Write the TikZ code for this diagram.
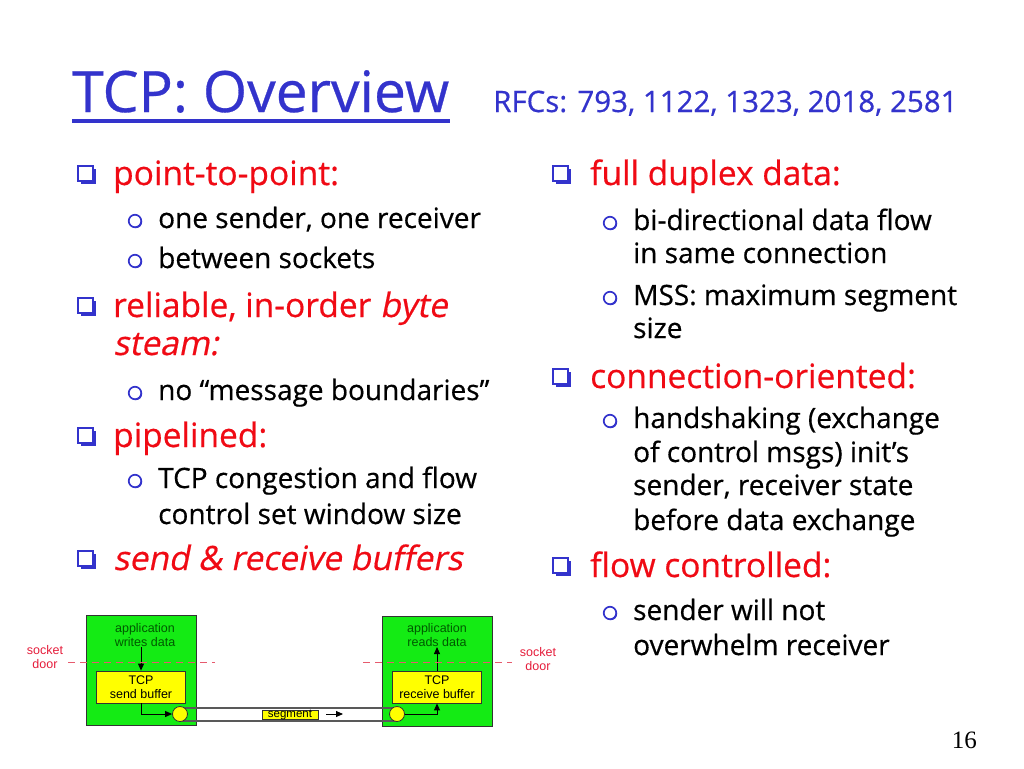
\documentclass[tikz,border=0pt]{standalone}
\usepackage{fontspec}
\setmainfont{Open Sans}[FakeBold=0.5, ItalicFont={Open Sans}, ItalicFeatures={FakeSlant=0.2}]
\newfontfamily\arialf{Liberation Sans}
\newfontfamily\timesf{Liberation Serif}
\usetikzlibrary{arrows.meta,shadows}
\definecolor{titleblue}{RGB}{51,51,204}
\definecolor{itemred}{RGB}{240,10,20}
\definecolor{bulletblue}{RGB}{51,51,204}
\definecolor{greenbox}{RGB}{20,235,20}
\definecolor{yellowbox}{RGB}{255,255,0}
\definecolor{appgreen}{RGB}{0,90,0}
\definecolor{socketred}{RGB}{230,30,60}
\definecolor{dashpink}{RGB}{230,90,110}
\newcommand\mainsize{\fontsize{33.5}{38}\selectfont}
\newcommand\subsize{\fontsize{28}{32}\selectfont}
\newcommand\diagsize{\fontsize{12.5}{14.5}\selectfont}
\tikzset{
  mainitem/.style={anchor=base west, inner sep=0pt, text=itemred, font=\mainsize},
  subitem/.style={anchor=base west, inner sep=0pt, text=black, font=\subsize},
  sqb/.style={rectangle, draw=bulletblue, fill=white, line width=1.6pt, minimum size=15pt, inner sep=0pt,
    drop shadow={shadow xshift=2.5pt, shadow yshift=-2.5pt, fill=bulletblue, opacity=1}},
  cib/.style={circle, draw=bulletblue, fill=white, line width=1.7pt, minimum size=12.5pt, inner sep=0pt,
    drop shadow={shadow xshift=0.9pt, shadow yshift=-0.9pt, fill=bulletblue, opacity=1}},
  hostbox/.style={rectangle, draw=black!80, line width=0.8pt, fill=greenbox, inner sep=0pt, minimum width=110pt, minimum height=110pt},
  bufbox/.style={rectangle, draw=black!80, line width=0.8pt, fill=yellowbox, inner sep=0pt, minimum width=89pt, minimum height=32pt, align=center, font=\arialf\diagsize},
  apptext/.style={align=center, inner sep=0pt, text=appgreen, font=\arialf\diagsize},
  sockettext/.style={align=center, inner sep=0pt, text=socketred, font=\arialf\diagsize},
  doorline/.style={draw=dashpink, line width=1pt, dash pattern=on 7pt off 5pt},
  port/.style={circle, draw=black!80, line width=0.8pt, fill=yellowbox, minimum size=15pt, inner sep=0pt},
  pipe/.style={draw=black!65, line width=1.2pt},
  arr/.style={draw=black, line width=0.9pt, -{Triangle[length=7pt,width=6pt]}},
}
\begin{document}
\begin{tikzpicture}[x=1pt,y=-1pt]
\useasboundingbox (0,0) rectangle (1024,768);
\fill[white] (0,0) rectangle (1024,768);

% title
\node[anchor=base west, inner sep=0pt, text=titleblue, font=\fontsize{57}{62}\selectfont] (title) at (72,112) {TCP: Overview};
\draw[titleblue, line width=3.5pt] (title.south west |- 0,121) -- (450,121);
\node[anchor=base west, inner sep=0pt, text=titleblue, font=\fontsize{29.5}{32}\selectfont] (rfcs) at (493,112) {RFCs: 793, 1122, 1323, 2018, 2581};

% left column
\node[sqb] (b1) at (85.5,173.5) {};
\node[mainitem] (m1) at (113,185) {point-to-point:};
\node[cib] (c11) at (135,221) {};
\node[subitem] (s11) at (158,228) {one sender, one receiver};
\node[cib] (c12) at (135,261) {};
\node[subitem] (s12) at (158,268) {between sockets};
\node[sqb] (b2) at (85.5,305.5) {};
\node[mainitem] (m2a) at (113,317) {reliable, in-order \textit{byte}};
\node[mainitem] (m2b) at (113,355) {\textit{steam:}};
\node[cib] (c21) at (135,393) {};
\node[subitem] (s21) at (158,400) {no “message boundaries”};
\node[sqb] (b3) at (85.5,435.5) {};
\node[mainitem] (m3) at (113,447) {pipelined:};
\node[cib] (c31) at (135,481) {};
\node[subitem] (s31a) at (158,488) {TCP congestion and flow};
\node[subitem] (s31b) at (158,524) {control set window size};
\node[sqb] (b4) at (85.5,558.5) {};
\node[mainitem] (m4) at (113,570) {\textit{send \& receive buffers}};

% right column
\node[sqb] (b5) at (560.5,173.5) {};
\node[mainitem] (m5) at (590,185) {full duplex data:};
\node[cib] (c51) at (610,223) {};
\node[subitem] (s51a) at (633,230) {bi-directional data flow};
\node[subitem] (s51b) at (633,263) {in same connection};
\node[cib] (c52) at (610,298) {};
\node[subitem] (s52a) at (633,305) {MSS: maximum segment};
\node[subitem] (s52b) at (633,338) {size};
\node[sqb] (b6) at (560.5,376.5) {};
\node[mainitem] (m6) at (590,388) {connection-oriented:};
\node[cib] (c61) at (610,421) {};
\node[subitem] (s61a) at (633,428) {handshaking (exchange};
\node[subitem] (s61b) at (633,462) {of control msgs) init’s};
\node[subitem] (s61c) at (633,495) {sender, receiver state};
\node[subitem] (s61d) at (633,530) {before data exchange};
\node[sqb] (b7) at (560.5,565.5) {};
\node[mainitem] (m7) at (590,577) {flow controlled:};
\node[cib] (c71) at (610,613) {};
\node[subitem] (s71a) at (633,620) {sender will not};
\node[subitem] (s71b) at (633,655) {overwhelm receiver};

% page number
\node[anchor=base east, inner sep=0pt, font=\timesf\fontsize{25}{28}\selectfont] (pg) at (977,748) {16};

% diagram
\node[hostbox] (hostL) at (141,670.5) {};
\node[hostbox] (hostR) at (437,671) {};
\node[bufbox] (bufL) at (141,687) {TCP\\send buffer};
\node[bufbox] (bufR) at (437,687) {TCP\\receive buffer};
\node[apptext] (appL) at (145,635) {application\\writes data};
\node[apptext] (appR) at (437,635) {application\\reads data};
\coordinate (portLc) at (180,714);
\coordinate (portRc) at (397,714);
\draw[pipe] (portLc |- 0,708) -- (portRc |- 0,708);
\draw[pipe] (portLc |- 0,721) -- (portRc |- 0,721);
\node[port] (portL) at (portLc) {};
\node[port] (portR) at (portRc) {};
\node[bufbox, minimum width=56pt, minimum height=9pt, font=\arialf\fontsize{11.5}{12}\selectfont, text height=7pt, text depth=1.5pt] (seg) at (290,714.5) {segment};
\coordinate (segA) at (326,714);
\coordinate (segB) at (343,714);
\draw[arr] (segA) -- (segB);

\draw[arr] (appL.south -| bufL.north) -- (bufL.north);
\draw[arr] (bufL.south) |- (portL.west);
\draw[arr] (portR.east) -| (bufR.south);
\draw[arr] (bufR.north) -- (bufR.north |- appR.south);

\coordinate (dl1) at (68,662);
\coordinate (dl2) at (215,662);
\coordinate (dr1) at (363,662);
\coordinate (dr2) at (512,662);
\draw[doorline] (dl1) -- (dl2);
\draw[doorline] (dr1) -- (dr2);
\node[sockettext] (sockL) at (45,657) {socket\\door};
\node[sockettext] (sockR) at (538,659) {socket\\door};
\end{tikzpicture}
\end{document}
